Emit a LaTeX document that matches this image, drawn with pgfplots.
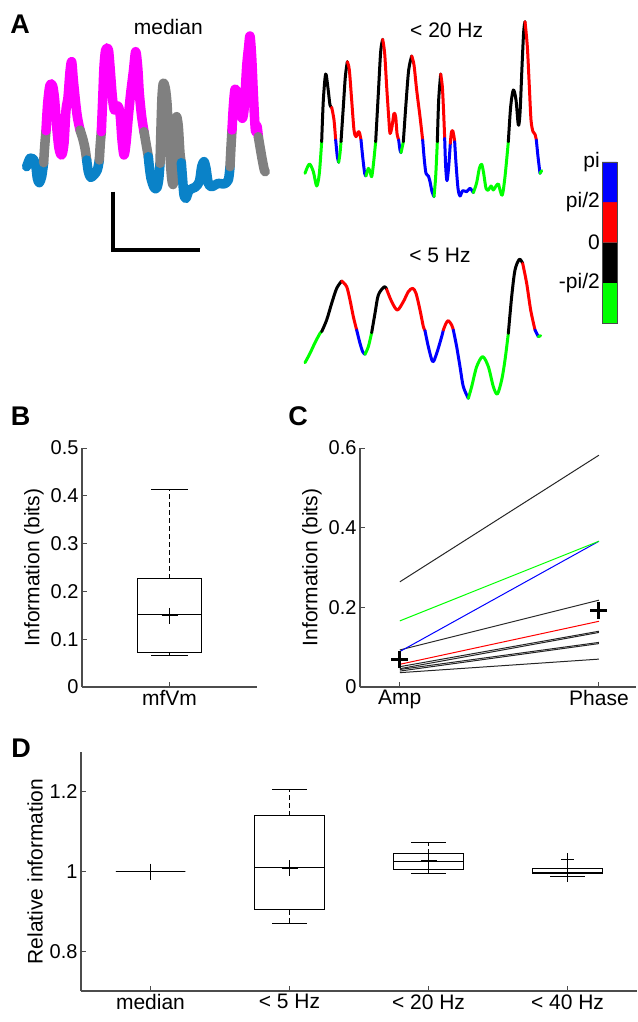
\documentclass[border=0pt]{standalone}
\usepackage{pgfplots}
\pgfplotsset{compat=1.18}
\usepgfplotslibrary{statistics}
\usepackage{fontspec}
\setmainfont{Liberation Sans}
\newcommand\fa{\fontsize{21}{25}\selectfont}
\newcommand\ft{\fontsize{20}{24}\selectfont}
\newcommand\fl{\bfseries\fontsize{27}{32}\selectfont}
\definecolor{cM}{RGB}{255,0,255}
\definecolor{cG}{RGB}{128,128,128}
\definecolor{cB}{RGB}{10,130,200}
\definecolor{pG}{RGB}{0,255,0}
\definecolor{pB}{RGB}{0,0,255}
\definecolor{pR}{RGB}{255,0,0}

% dashed whisker, solid cap (as in MATLAB boxplot)
\pgfplotsset{
  boxplot/draw/whisker/.code 2 args={
    \draw[/pgfplots/boxplot/every whisker/.try, dash pattern=on 5pt off 3pt]
      (boxplot cs:#1) -- (boxplot cs:#2);
    \draw[/pgfplots/boxplot/every whisker/.try]
      (boxplot whisker cs:#2,0) -- (boxplot whisker cs:#2,1);
  },
}
\pgfplotsset{
  trace/.style={hide axis, scale only axis, clip=false, y dir=reverse, anchor=north west},
  fat/.style={line width=9.5pt, line cap=round, line join=round, smooth},
  thin/.style={line width=3pt, line cap=round, line join=round, smooth},
  panel/.style={scale only axis, anchor=north west, axis lines*=left,
    axis line style={black!70, line width=1.2pt}, tick style={black!70, line width=1pt},
    tick align=inside, major tick length=5pt,
    boxplot/draw direction=y,
    /pgf/number format/assume math mode=true,
    tick label style={font=\ft}, label style={font=\fa},
    yticklabel style={/pgf/number format/fixed, /pgf/number format/precision=1}},
  bx/.style={black, solid, line width=1pt},
  meanmk/.style={only marks, mark=+, mark size=8pt, black, line width=1pt},
}

\begin{document}
\begin{tikzpicture}
\useasboundingbox (0,0) rectangle (637pt,-1022pt);

% ---- A: median trace
\begin{axis}[trace, at={(0pt,0pt)}, width=300pt, height=270pt,
  xmin=0, xmax=900, ymin=0, ymax=810]
\addplot[cB, fat] coordinates {(80,500) (90,475) (100,478) (107,495) (112,535) (118,548) (125,530) (131,488)};
\addplot[cG, fat] coordinates {(131,488) (134,440) (138,392)};
\addplot[cM, fat] coordinates {(138,392) (143,310) (150,255) (158,258) (164,300) (170,380) (177,445) (185,465) (192,430) (198,330) (204,292) (210,215) (215,185) (220,240) (226,300) (232,350) (240,390)};
\addplot[cG, fat] coordinates {(240,390) (248,415) (255,445) (260,480)};
\addplot[cB, fat] coordinates {(260,480) (265,515) (272,532) (282,525) (292,510) (298,480)};
\addplot[cG, fat] coordinates {(298,480) (301,430) (304,395)};
\addplot[cM, fat] coordinates {(304,395) (308,300) (312,200) (317,150) (325,148) (330,200) (337,290) (343,330) (350,318) (356,322) (361,350) (366,420) (372,465) (378,430) (385,350) (392,280) (400,215) (407,155) (413,200) (418,280) (425,350) (432,395)};
\addplot[cG, fat] coordinates {(432,395) (438,430) (445,470)};
\addplot[cB, fat] coordinates {(445,470) (448,500) (453,535) (462,562) (470,565) (476,540) (480,490)};
\addplot[cG, fat] coordinates {(480,490) (483,380) (486,290) (490,250) (496,265) (501,310) (505,390) (510,470) (515,535) (520,550) (524,460) (527,370) (530,350) (535,380) (540,460) (544,488)};
\addplot[cB, fat] coordinates {(544,488) (548,540) (552,585) (558,595) (568,570) (585,562) (598,545) (605,500) (612,485) (618,505) (625,550) (635,560) (655,550) (672,552) (685,540) (690,500)};
\addplot[cG, fat] coordinates {(690,500) (693,440) (696,390)};
\addplot[cM, fat] coordinates {(696,390) (700,320) (705,268) (712,285) (720,320) (727,355) (733,320) (740,200) (746,140) (750,108) (755,170) (760,280) (764,360) (767,395) (771,378) (775,410)};
\addplot[cG, fat] coordinates {(775,410) (780,440) (786,475) (793,510) (796,515)};
% scale bar
\addplot[black, line width=4pt, line join=miter] coordinates {(340,575) (340,750) (600,750)};
\node[font=\fa] at (axis cs:505,80) {median};
\node[font=\fl] at (axis cs:60,72) {A};
\end{axis}

% ---- A: < 20 Hz
\begin{axis}[trace, at={(290pt,0pt)}, width=347pt, height=220pt,
  xmin=0, xmax=1041, ymin=0, ymax=660]
\addplot[pG, thin] coordinates {(45,520) (58,492) (70,515) (80,558) (88,520) (95,425)};
\addplot[black, thin] coordinates {(95,425) (100,300) (107,222) (114,265) (120,315) (125,322)};
\addplot[pR, thin] coordinates {(125,322) (132,360) (137,420)};
\addplot[pB, thin] coordinates {(137,420) (142,470) (146,487)};
\addplot[pG, thin] coordinates {(146,487) (150,460) (153,425)};
\addplot[black, thin] coordinates {(153,425) (160,320) (166,230) (172,185)};
\addplot[pR, thin] coordinates {(172,185) (178,210) (185,300) (192,390) (198,410) (205,395) (209,400) (213,420)};
\addplot[pB, thin] coordinates {(213,420) (218,470) (224,520) (228,528)};
\addplot[pG, thin] coordinates {(228,528) (235,505) (240,515) (245,530) (250,495) (257,425)};
\addplot[black, thin] coordinates {(257,425) (265,280) (272,155) (278,118)};
\addplot[pR, thin] coordinates {(278,118) (284,160) (290,260) (296,350) (300,400) (306,380) (312,340) (317,350) (321,400) (326,420)};
\addplot[pB, thin] coordinates {(326,420) (330,450) (333,458)};
\addplot[pG, thin] coordinates {(333,458) (337,440) (340,425)};
\addplot[black, thin] coordinates {(340,425) (348,310) (356,210) (365,168)};
\addplot[pR, thin] coordinates {(365,168) (372,195) (380,270) (390,350) (398,420)};
\addplot[pB, thin] coordinates {(398,420) (403,480) (408,520) (415,528) (420,545) (426,575) (432,590)};
\addplot[pG, thin] coordinates {(432,590) (437,530) (442,425)};
\addplot[black, thin] coordinates {(442,425) (446,300) (452,222)};
\addplot[pR, thin] coordinates {(452,222) (457,260) (461,340) (464,415)};
\addplot[pB, thin] coordinates {(464,415) (467,500) (471,542) (476,500) (481,430)};
\addplot[pR, thin] coordinates {(481,430) (484,398) (488,392) (492,410) (494,425)};
\addplot[pB, thin] coordinates {(494,425) (498,490) (504,565) (510,588) (518,572) (530,575) (540,565) (550,578)};
\addplot[pG, thin] coordinates {(550,578) (560,548) (568,505) (575,493) (581,520) (588,565) (595,570) (603,558) (610,570) (618,558) (625,552) (630,570) (637,585) (645,530) (655,425)};
\addplot[black, thin] coordinates {(655,425) (662,320) (670,270) (678,300) (685,375) (690,340) (696,200) (701,95) (705,65)};
\addplot[pR, thin] coordinates {(705,65) (712,140) (718,260) (723,360) (729,395) (735,403) (739,420)};
\addplot[pB, thin] coordinates {(739,420) (744,470) (750,520)};
\addplot[pG, thin] coordinates {(750,520) (755,512)};
\node[font=\fa] at (axis cs:470,90) {< 20 Hz};
\end{axis}

% ---- A: < 5 Hz
\begin{axis}[trace, at={(290pt,-220pt)}, width=347pt, height=190pt,
  xmin=0, xmax=1041, ymin=0, ymax=570]
\addplot[pG, thin] coordinates {(45,428) (60,400) (75,368) (90,340) (95,335)};
\addplot[black, thin] coordinates {(95,335) (110,300) (125,250) (140,205) (155,183)};
\addplot[pR, thin] coordinates {(155,183) (170,200) (180,240) (190,290) (200,330)};
\addplot[pB, thin] coordinates {(200,330) (210,370) (218,395) (225,403)};
\addplot[pG, thin] coordinates {(225,403) (235,380) (245,338)};
\addplot[black, thin] coordinates {(245,338) (255,280) (265,225) (283,200) (290,208)};
\addplot[pR, thin] coordinates {(290,208) (305,245) (322,270) (340,245) (355,215) (368,205) (378,220) (390,270) (400,320) (405,332)};
\addplot[pB, thin] coordinates {(405,332) (415,380) (428,425) (440,400) (455,350) (460,330)};
\addplot[pR, thin] coordinates {(460,330) (468,310) (475,302) (485,315) (490,330)};
\addplot[pB, thin] coordinates {(490,330) (500,380) (510,440) (520,500) (535,535)};
\addplot[pG, thin] coordinates {(535,535) (545,500) (560,440) (578,410) (595,440) (610,500) (622,522) (635,480) (645,420) (655,340)};
\addplot[black, thin] coordinates {(655,340) (665,230) (675,150) (688,118) (698,130)};
\addplot[pR, thin] coordinates {(698,130) (710,190) (722,270) (735,330)};
\addplot[pB, thin] coordinates {(735,330) (745,350)};
\addplot[pG, thin] coordinates {(745,350) (752,347)};
\node[font=\fa] at (axis cs:450,105) {< 5 Hz};
\end{axis}

% ---- A: phase colour bar
\begin{axis}[scale only axis, anchor=north west, at={(602pt,-162pt)}, width=15pt, height=161pt,
  xmin=0, xmax=1, ymin=-2, ymax=2, xtick=\empty, ytick={-1,0,1,2},
  yticklabels={-pi/2,0,pi/2,pi}, major tick length=0pt, axis on top,
  axis line style={black!70, line width=0.8pt},
  yticklabel style={font=\fa, inner sep=2pt}]
\addplot[fill=pG, draw=none] coordinates {(0,-2) (1,-2) (1,-1) (0,-1) (0,-2)};
\addplot[fill=black, draw=none] coordinates {(0,-1) (1,-1) (1,0) (0,0) (0,-1)};
\addplot[fill=pR, draw=none] coordinates {(0,0) (1,0) (1,1) (0,1) (0,0)};
\addplot[fill=pB, draw=none] coordinates {(0,1) (1,1) (1,2) (0,2) (0,1)};
\end{axis}

% ---- B
\node[font=\fl] at (20.5pt,-416pt) {B};
\begin{axis}[panel, at={(82pt,-448pt)}, width=175pt, height=239pt,
  xmin=0.5, xmax=1.5, ymin=0, ymax=0.5,
  ytick={0,0.1,0.2,0.3,0.4,0.5}, xtick={1}, xticklabels={mfVm},
  xticklabel style={font=\fa}, ylabel={Information (bits)}]
\addplot[bx, boxplot prepared={draw position=1, median=0.151, lower quartile=0.072,
  upper quartile=0.226, lower whisker=0.065, upper whisker=0.414,
  box extend=0.37, whisker extend=0.21}] coordinates {};
\addplot[meanmk] coordinates {(1,0.149)};
\end{axis}

% ---- C
\node[font=\fl] at (298pt,-416pt) {C};
\begin{axis}[panel, at={(360pt,-448pt)}, width=276pt, height=239pt,
  xmin=0.8, xmax=2.186, ymin=0, ymax=0.6,
  ytick={0,0.2,0.4,0.6}, xtick={1,2}, xticklabels={Amp,Phase},
  xticklabel style={font=\fa}, ylabel={Information (bits)}]
\addplot[black!85, line width=1pt] coordinates {(1,0.264) (2,0.582)};
\addplot[black!85, line width=1pt] coordinates {(1,0.093) (2,0.218)};
\addplot[black!85, line width=1pt] coordinates {(1,0.051) (2,0.140)};
\addplot[black!85, line width=1pt] coordinates {(1,0.046) (2,0.137)};
\addplot[black!85, line width=1pt] coordinates {(1,0.044) (2,0.112)};
\addplot[black!85, line width=1pt] coordinates {(1,0.040) (2,0.109)};
\addplot[black!85, line width=1pt] coordinates {(1,0.036) (2,0.070)};
\addplot[pR, line width=1pt] coordinates {(1,0.057) (2,0.165)};
\addplot[pB, line width=1pt] coordinates {(1,0.089) (2,0.366)};
\addplot[pG, line width=1pt] coordinates {(1,0.166) (2,0.366)};
\addplot[only marks, mark=+, mark size=8.5pt, black, line width=3pt] coordinates {(1,0.070) (2,0.193)};
\end{axis}

% ---- D
\node[font=\fl] at (21pt,-748pt) {D};
\begin{axis}[panel, at={(81pt,-752pt)}, width=556pt, height=239pt,
  xmin=0.5, xmax=4.5, ymin=0.7, ymax=1.3,
  ytick={0.8,1,1.2}, xtick={1,2,3,4},
  xticklabels={median,< 5 Hz,< 20 Hz,< 40 Hz},
  xticklabel style={font=\fa}, ylabel={Relative information}]
\addplot[bx, boxplot prepared={draw position=1, median=1, lower quartile=1,
  upper quartile=1, lower whisker=1, upper whisker=1,
  box extend=0.5, whisker extend=0.25}] coordinates {};
\addplot[bx, boxplot prepared={draw position=2, median=1.011, lower quartile=0.904,
  upper quartile=1.1405, lower whisker=0.869, upper whisker=1.206,
  box extend=0.5, whisker extend=0.25}] coordinates {};
\addplot[bx, boxplot prepared={draw position=3, median=1.025, lower quartile=1.005,
  upper quartile=1.045, lower whisker=0.995, upper whisker=1.073,
  box extend=0.5, whisker extend=0.25}] coordinates {};
\addplot[bx, boxplot prepared={draw position=4, median=0.997, lower quartile=0.995,
  upper quartile=1.0075, lower whisker=0.9875, upper whisker=1.0075,
  box extend=0.5, whisker extend=0.25}] coordinates {};
\addplot[meanmk] coordinates {(1,1) (2,1.008) (3,1.027) (4,0.995)};
\addplot[only marks, mark=+, mark size=6.5pt, black, line width=1pt] coordinates {(4,1.03)};
\end{axis}
\end{tikzpicture}
\end{document}
